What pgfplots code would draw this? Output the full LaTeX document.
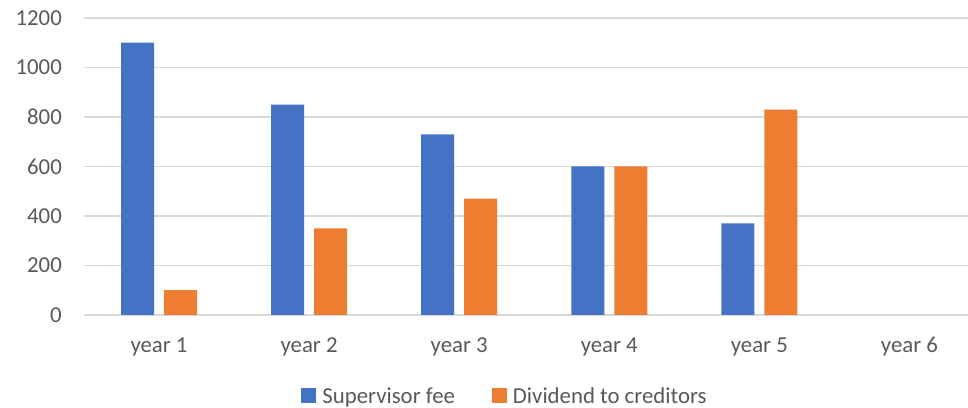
\documentclass[border=0pt]{standalone}
\usepackage{fontspec}
\setmainfont{Carlito}
\usepackage{pgfplots}
\pgfplotsset{compat=1.18}
\definecolor{cblue}{HTML}{4472C4}
\definecolor{corange}{HTML}{ED7D31}
\definecolor{cgrid}{HTML}{D9D9D9}
\definecolor{ctext}{HTML}{595959}
\begin{document}
\begin{tikzpicture}[font=\fontsize{22.8bp}{27bp}\selectfont]
\begin{axis}[
  at={(84bp,93bp)}, anchor=south west,
  scale only axis, width=884bp, height=297bp,
  ybar, bar width=33bp,
  xmin=-0.5, xmax=5.39, ymin=0, ymax=1200,
  xtick={0,1,2,3,4,5},
  xticklabels={year 1,year 2,year 3,year 4,year 5,year 6},
  ytick={0,200,400,600,800,1000,1200},
  ymajorgrids, grid style={cgrid, line width=1.4bp},
  axis line style={draw=none},
  major tick length=0pt,
  tick label style={text=ctext},
  /pgf/number format/assume math mode=true,
  /pgf/number format/1000 sep={},
  yticklabel style={anchor=east, inner sep=0pt, xshift=-22bp},
  xticklabel style={anchor=base, inner sep=0pt, yshift=-37bp},
  legend columns=2,
  legend style={draw=none, at={(0.4762,-0.2727)}, anchor=center, text=ctext,
    /tikz/every odd column/.append style={column sep=4bp},
    /tikz/every even column/.append style={column sep=35bp},
    inner sep=0pt},
  legend image code/.code={\fill[#1] (0bp,-7.5bp) rectangle (15bp,7.5bp);},
]
\addplot[fill=cblue, draw=none, bar shift=-21.5bp] coordinates {(0,1100) (1,850) (2,730) (3,600) (4,370) (5,0)};
\addplot[fill=corange, draw=none, bar shift=21.5bp] coordinates {(0,100) (1,350) (2,470) (3,600) (4,830) (5,0)};
\legend{Supervisor fee, Dividend to creditors}
\end{axis}
\pgfresetboundingbox
\path (0,0) rectangle (968bp,408bp);
\end{tikzpicture}
\end{document}
